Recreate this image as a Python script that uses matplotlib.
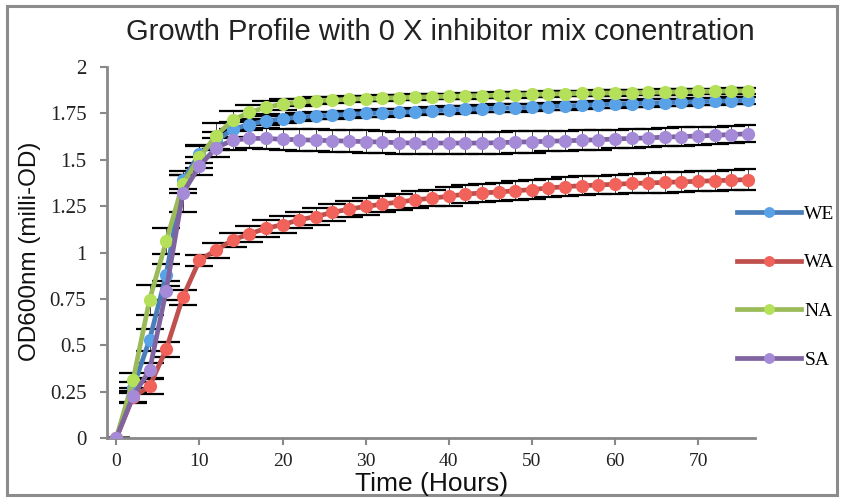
import matplotlib
matplotlib.use('Agg')
import matplotlib.pyplot as plt
from matplotlib.patches import Rectangle

# time points (hours)
hours = [0, 2, 4, 6, 8, 10, 12, 14, 16, 18, 20, 22, 24, 26, 28, 30, 32, 34, 36, 38,
         40, 42, 44, 46, 48, 50, 52, 54, 56, 58, 60, 62, 64, 66, 68, 70, 72, 74, 76]

we = [0, 0.27, 0.53, 0.88, 1.39, 1.53, 1.60, 1.665, 1.69, 1.71, 1.72, 1.73, 1.737, 1.74,
      1.745, 1.75, 1.752, 1.755, 1.76, 1.765, 1.768, 1.772, 1.775, 1.778, 1.78, 1.783,
      1.787, 1.79, 1.793, 1.797, 1.80, 1.803, 1.805, 1.808, 1.81, 1.813, 1.815, 1.818, 1.82]
we_err = [0, 0.03, 0.06, 0.06, 0.05, 0.05, 0.05, 0.04, 0.03, 0.025, 0.02, 0.02, 0.02, 0.02,
          0.02, 0.02, 0.02, 0.02, 0.02, 0.02, 0.02, 0.02, 0.02, 0.02, 0.02, 0.02, 0.02,
          0.02, 0.02, 0.02, 0.02, 0.02, 0.02, 0.02, 0.02, 0.02, 0.02, 0.02, 0.02]

wa = [0, 0.22, 0.279, 0.478, 0.759, 0.958, 1.013, 1.067, 1.10, 1.13, 1.15, 1.176, 1.194,
      1.216, 1.234, 1.248, 1.261, 1.272, 1.284, 1.293, 1.303, 1.315, 1.321, 1.326, 1.333,
      1.339, 1.348, 1.355, 1.36, 1.364, 1.368, 1.372, 1.375, 1.378, 1.381, 1.384, 1.387,
      1.39, 1.393]
wa_err = [0, 0.03, 0.04, 0.04, 0.04, 0.03, 0.04, 0.04, 0.045, 0.045, 0.045, 0.045, 0.045,
          0.045, 0.045, 0.045, 0.045, 0.045, 0.045, 0.045, 0.05, 0.05, 0.05, 0.05, 0.05,
          0.05, 0.05, 0.05, 0.05, 0.05, 0.05, 0.05, 0.055, 0.055, 0.055, 0.055, 0.055,
          0.055, 0.055]

na = [0, 0.31, 0.745, 1.06, 1.37, 1.515, 1.63, 1.714, 1.755, 1.783, 1.80, 1.81, 1.818,
      1.822, 1.826, 1.83, 1.832, 1.835, 1.837, 1.84, 1.842, 1.844, 1.846, 1.848, 1.85,
      1.852, 1.854, 1.856, 1.858, 1.859, 1.86, 1.862, 1.863, 1.865, 1.866, 1.868, 1.869,
      1.87, 1.872]
na_err = [0, 0.04, 0.08, 0.07, 0.05, 0.06, 0.07, 0.05, 0.04, 0.035, 0.03, 0.02, 0.02,
          0.015, 0.015, 0.015, 0.015, 0.015, 0.015, 0.015, 0.015, 0.015, 0.015, 0.015,
          0.015, 0.015, 0.015, 0.015, 0.015, 0.015, 0.015, 0.015, 0.015, 0.015, 0.015,
          0.015, 0.015, 0.015, 0.015]

sa = [0, 0.225, 0.365, 0.795, 1.32, 1.466, 1.565, 1.605, 1.615, 1.615, 1.61, 1.608, 1.605,
      1.603, 1.60, 1.598, 1.595, 1.592, 1.59, 1.59, 1.59, 1.59, 1.59, 1.592, 1.595, 1.597,
      1.60, 1.602, 1.605, 1.608, 1.612, 1.615, 1.618, 1.622, 1.625, 1.628, 1.632, 1.636,
      1.64]
sa_err = [0, 0.03, 0.04, 0.05, 0.1, 0.05, 0.05, 0.05, 0.05, 0.055, 0.055, 0.06, 0.06,
          0.06, 0.06, 0.06, 0.06, 0.06, 0.06, 0.06, 0.06, 0.06, 0.06, 0.06, 0.06, 0.06,
          0.055, 0.055, 0.055, 0.055, 0.05, 0.05, 0.05, 0.05, 0.05, 0.05, 0.045, 0.045,
          0.045]

series = [
    ('WE', we, we_err, '#4a7ebb', '#5aa2e8'),
    ('WA', wa, wa_err, '#c0504d', '#f0625a'),
    ('NA', na, na_err, '#9bbb59', '#b4e05a'),
    ('SA', sa, sa_err, '#8064a2', '#a58ad8'),
]

y_ticks = [0, 0.25, 0.5, 0.75, 1, 1.25, 1.5, 1.75, 2]
y_labels = ['0', '0.25', '0.5', '0.75', '1', '1.25', '1.5', '1.75', '2']
x_ticks = [0, 10, 20, 30, 40, 50, 60, 70]

sans = ['Liberation Sans', 'DejaVu Sans']
serif = ['Liberation Serif', 'DejaVu Serif']

fig = plt.figure(figsize=(8.44, 5), dpi=100)
ax = fig.add_axes([0.127, 0.124, 0.768, 0.742])

handles = []
for name, vals, errs, lc, fc in series:
    ax.errorbar(hours, vals, yerr=errs, fmt='none', ecolor='black', elinewidth=0.5,
                capsize=10, capthick=1.6, zorder=2)
for name, vals, errs, lc, fc in series:
    ln, = ax.plot(hours, vals, color=lc, lw=3.4, marker='o', ms=8.5, mfc=fc, mec=fc,
                  label=name, zorder=3)
    handles.append(ln)

ax.set_xlim(-1.1, 76.9)
ax.set_ylim(0, 2)
ax.set_yticks(y_ticks)
ax.set_yticklabels(y_labels, family=serif, fontsize=15)
ax.set_xticks(x_ticks)
ax.set_xticklabels([str(t) for t in x_ticks], family=serif, fontsize=14)
ax.tick_params(axis='both', direction='out', length=5, width=1.5, color='#888888',
               labelcolor='#222222')
ax.tick_params(axis='y', pad=10)
ax.tick_params(axis='x', pad=6)
for s in ['top', 'right']:
    ax.spines[s].set_visible(False)
for s in ['left', 'bottom']:
    ax.spines[s].set_color('#888888')
    ax.spines[s].set_linewidth(2)

fig.text(0.522, 0.936, 'Growth Profile with 0 X inhibitor mix conentration',
         ha='center', va='center', fontsize=21, family=sans, color='#222222')
fig.text(0.036, 0.498, 'OD600nm (milli-OD)', rotation=90, ha='center', va='center',
         fontsize=17.5, family=sans, color='#111111')
fig.text(0.511, 0.032, 'Time (Hours)', ha='center', va='center', fontsize=19,
         family=sans, color='#111111')

ax.legend(handles=handles, loc='center left', bbox_to_anchor=(0.862, 0.426),
          bbox_transform=fig.transFigure, frameon=False, borderpad=0,
          handlelength=3.3, handletextpad=0.15, labelspacing=1.6, markerscale=0.8,
          prop={'family': serif, 'size': 14})

fig.patches.append(Rectangle((0.008, 0.01), 0.984, 0.978, transform=fig.transFigure,
                             fill=False, edgecolor='#8c8c8c', lw=2.2))

fig.savefig('out.png', dpi=100)
